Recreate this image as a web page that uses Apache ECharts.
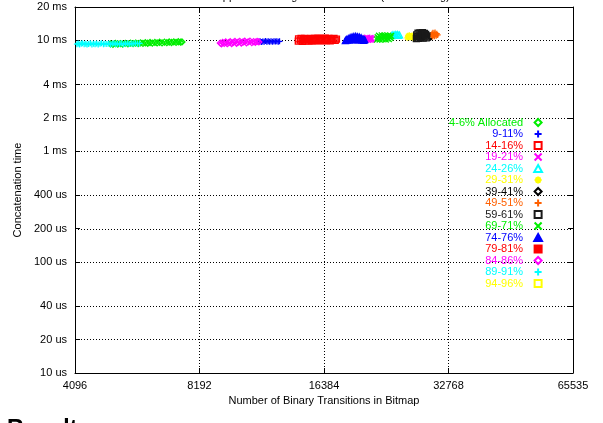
<!DOCTYPE html>
<html>
<head>
<meta charset="utf-8">
<script src="https://cdn.jsdelivr.net/npm/echarts@6/dist/echarts.min.js"></script>
<style>
  html, body { margin: 0; padding: 0; background: #ffffff; }
  #chart { width: 603px; height: 423px; }
</style>
</head>
<body>
<div id="chart"></div>
<script>
// Axis ticks (x: number of transitions, y: time in milliseconds)
const xTickValues = [4096, 8192, 16384, 32768, 65535];
const xTickLabels = ['4096', '8192', '16384', '32768', '65535'];
const yTickValues = [0.01, 0.02, 0.04, 0.1, 0.2, 0.4, 1, 2, 4, 10, 20];
const yTickLabels = ['10 us', '20 us', '40 us', '100 us', '200 us', '400 us', '1 ms', '2 ms', '4 ms', '10 ms', '20 ms'];

// Measurements per allocation band: [transitions, concatenation time in ms]
const alloc4_6 = [[4990,9.30],[5060,9.22],[5130,9.38],[5200,9.28],[5270,9.35],[5340,9.25],[5420,9.40],[5500,9.31],[5580,9.44],[5660,9.34],[5740,9.46],[5820,9.36],[5900,9.50],[5980,9.40],[6060,9.52],[6140,9.42],[6220,9.56],[6300,9.45],[6390,9.58],[6470,9.48],[6560,9.62],[6650,9.50],[6740,9.64],[6830,9.53],[6920,9.66],[7010,9.56],[7100,9.70],[7190,9.60],[7280,9.72],[7370,9.63],[7430,9.68]];
const alloc9_11 = [[11400,9.70],[11480,9.82],[11560,9.66],[11650,9.78],[11740,9.72],[11830,9.86],[11920,9.70],[12010,9.80],[12100,9.74],[12200,9.84],[12300,9.72],[12400,9.80],[12500,9.76],[12600,9.84],[12700,9.74],[12790,9.80]];
const alloc14_16 = [[14200,9.85],[14220,10.30],[14360,10.05],[14420,10.40],[14520,9.82],[14600,10.20],[14700,10.42],[14780,9.90],[14860,10.15],[14960,10.38],[15050,9.86],[15150,10.25],[15250,10.44],[15340,9.92],[15440,10.12],[15540,10.40],[15640,9.88],[15740,10.22],[15850,10.45],[15950,9.94],[16060,10.18],[16170,10.42],[16280,9.90],[16390,10.28],[16500,10.46],[16610,9.96],[16720,10.20],[16840,10.44],[16960,9.92],[17080,10.30],[17200,10.10],[17320,10.42],[17440,9.98],[17560,10.26]];
const alloc19_21 = [[20600,10.15],[20680,10.45],[20760,10.25],[20850,10.55],[20940,10.12],[21030,10.40],[21120,10.20],[21220,10.50],[21320,10.18],[21420,10.35]];
const alloc24_26 = [[23900,11.05],[24050,11.25],[24200,11.10],[24350,11.30],[24500,11.12],[24650,11.28],[24800,11.08],[24950,11.20]];
const alloc29_31 = [[26050,10.55],[26150,11.00],[26250,10.75],[26350,11.10],[26450,10.60],[26550,10.90],[26650,10.70],[26750,11.05],[26850,10.58],[26950,10.95],[27050,10.72],[27150,11.08],[27250,10.62]];
const alloc39_41 = [[29650,10.70],[29700,10.95]];
const alloc49_51 = [[29800,11.10],[29900,11.45],[30000,10.85],[30050,11.70],[30150,11.20],[30250,11.55],[30300,10.90],[30400,11.75],[30500,11.30],[30600,11.00],[30700,11.50],[30850,11.20]];
const alloc59_61 = [[27400,10.40],[27450,11.20],[27550,10.80],[27650,11.60],[27750,10.45],[27850,11.00],[27950,11.70],[28050,10.60],[28150,11.35],[28250,10.90],[28350,11.75],[28450,10.50],[28550,11.15],[28650,11.55],[28750,10.75],[28850,11.30],[28950,10.55],[29030,11.00]];
const alloc69_71 = [[22020,10.15],[22100,10.70],[22180,10.40],[22260,11.00],[22340,10.20],[22430,10.80],[22520,10.50],[22610,11.10],[22700,10.25],[22800,10.85],[22900,10.55],[23000,11.05],[23100,10.18],[23200,10.75],[23300,10.45],[23400,11.00],[23500,10.30],[23600,10.85],[23700,10.55],[23800,10.95]];
const alloc74_76 = [[18450,9.95],[18550,10.20],[18650,10.05],[18750,10.40],[18850,10.10],[18950,10.60],[19050,10.15],[19150,10.75],[19250,10.40],[19350,10.85],[19450,10.10],[19550,10.88],[19650,10.45],[19750,10.82],[19850,10.12],[19950,10.72],[20050,10.35],[20150,10.55],[20250,10.08],[20350,10.32],[20450,10.00],[20550,10.15]];
const alloc79_81 = [];
const alloc84_86 = [[9200,9.45],[9260,9.30],[9320,9.58],[9400,9.40],[9480,9.66],[9560,9.34],[9640,9.55],[9720,9.72],[9800,9.38],[9890,9.60],[9980,9.78],[10070,9.42],[10160,9.64],[10250,9.80],[10340,9.46],[10440,9.66],[10540,9.82],[10640,9.50],[10740,9.70],[10850,9.84],[10960,9.55],[11070,9.74],[11180,9.62],[11290,9.78],[11400,9.68]];
const alloc89_91 = [[4140,9.24],[4170,9.38],[4200,9.18],[4240,9.30],[4270,9.42],[4310,9.22],[4350,9.34],[4380,9.16],[4420,9.28],[4460,9.40],[4500,9.20],[4540,9.32],[4580,9.25],[4620,9.38],[4660,9.18],[4710,9.30],[4750,9.41],[4800,9.22],[4840,9.33],[4890,9.26],[4940,9.38],[4990,9.20],[5040,9.31],[5090,9.42],[5140,9.24],[5190,9.35],[5250,9.27],[5300,9.40],[5360,9.22],[5420,9.33],[5480,9.43],[5540,9.26],[5600,9.36],[5660,9.30],[5730,9.42],[5800,9.33],[5870,9.38]];
const alloc94_96 = [];

// Point shapes (all as paths so legend icons keep a square aspect)
const PLUS = 'path://M5,0L5,10M0,5L10,5';
const CROSS = 'path://M0,0L10,10M10,0L0,10';
const STAR = 'path://M5,0L5,10M0,5L10,5M1.5,1.5L8.5,8.5M8.5,1.5L1.5,8.5';
const BOXX = 'path://M0,0L10,0L10,10L0,10ZM0,0L10,10M10,0L0,10';
const SQUARE = 'path://M0,0L10,0L10,10L0,10Z';
const DIAMOND = 'path://M5,0L10,5L5,10L0,5Z';
const TRIANGLE = 'path://M5,0L10,9L0,9Z';

const bands = [
  { name: '4-6% Allocated', color: '#00ee00', symbol: DIAMOND,  filled: false, data: alloc4_6 },
  { name: '9-11%',  color: '#0000ff', symbol: PLUS,     filled: false, data: alloc9_11 },
  { name: '14-16%', color: '#ff0000', symbol: SQUARE,   filled: false, data: alloc14_16 },
  { name: '19-21%', color: '#ff00ff', symbol: CROSS,    filled: false, data: alloc19_21 },
  { name: '24-26%', color: '#00ffff', symbol: TRIANGLE, filled: false, data: alloc24_26 },
  { name: '29-31%', color: '#ffff00', symbol: STAR,     filled: false, data: alloc29_31 },
  { name: '39-41%', color: '#000000', symbol: DIAMOND,  filled: false, data: alloc39_41 },
  { name: '49-51%', color: '#ff6000', symbol: PLUS,     filled: false, data: alloc49_51 },
  { name: '59-61%', color: '#1a1a1a', symbol: SQUARE,   filled: false, data: alloc59_61 },
  { name: '69-71%', color: '#00ee00', symbol: CROSS,    filled: false, data: alloc69_71 },
  { name: '74-76%', color: '#0000ff', symbol: TRIANGLE, filled: true,  data: alloc74_76 },
  { name: '79-81%', color: '#ff0000', symbol: BOXX,     filled: true,  data: alloc79_81 },
  { name: '84-86%', color: '#ff00ff', symbol: DIAMOND,  filled: false, data: alloc84_86 },
  { name: '89-91%', color: '#00ffff', symbol: PLUS,     filled: false, data: alloc89_91 },
  { name: '94-96%', color: '#ffff00', symbol: SQUARE,   filled: false, data: alloc94_96 }
];

const FONT = 'Liberation Sans, Arial, Helvetica, sans-serif';
const log2 = Math.log2, log10 = Math.log10;
const xTicksLog = xTickValues.map(v => log2(v));
const yTicksLog = yTickValues.map(v => log10(v));

function lookup(ticks, labels, v) {
  for (let i = 0; i < ticks.length; i++) {
    if (Math.abs(ticks[i] - v) < 1e-6) return labels[i];
  }
  return '';
}

const scatterSeries = bands.map(b => ({
  type: 'scatter',
  name: b.name,
  symbol: b.symbol,
  symbolSize: 6,
  xAxisIndex: 0,
  yAxisIndex: 0,
  itemStyle: {
    color: b.filled ? b.color : 'rgba(0,0,0,0)',
    borderColor: b.color,
    borderWidth: 1.3,
    opacity: 1
  },
  emphasis: { disabled: true },
  data: b.data.map(p => [log2(p[0]), log10(p[1])])
}));

// Dotted grid lines inside the frame
const gridSeries = {
  type: 'scatter',
  name: 'grid',
  data: [],
  xAxisIndex: 0,
  yAxisIndex: 0,
  silent: true,
  markLine: {
    silent: true,
    z: 1,
    symbol: ['none', 'none'],
    label: { show: false },
    lineStyle: { color: '#000000', type: [1, 2], width: 1 },
    emphasis: { disabled: true },
    data: [
      ...xTicksLog.slice(1, -1).map(v => ({ xAxis: v })),
      ...yTicksLog.slice(1, -1).map(v => ({ yAxis: v }))
    ]
  }
};

const axisLine = { show: true, onZero: false, lineStyle: { color: '#000000', width: 1 } };

function tickStyle(values) {
  return { show: true, inside: true, length: 5, customValues: values, lineStyle: { color: '#000000' } };
}

const chart = echarts.init(document.getElementById('chart'), null, { renderer: 'canvas' });
chart.setOption({
  animation: false,
  backgroundColor: '#ffffff',
  grid: { left: 75, right: 30, top: 7, bottom: 50, containLabel: false, outerBoundsMode: 'none' },
  xAxis: [
    {
      type: 'value', position: 'bottom',
      min: log2(xTickValues[0]), max: log2(xTickValues[xTickValues.length - 1]),
      name: 'Number of Binary Transitions in Bitmap',
      nameLocation: 'middle', nameGap: 22,
      nameTextStyle: { fontFamily: FONT, fontSize: 11, color: '#000000' },
      axisLine: axisLine, splitLine: { show: false },
      axisTick: tickStyle(xTicksLog),
      axisLabel: { show: true, customValues: xTicksLog, margin: 7, fontFamily: FONT, fontSize: 11, color: '#000000',
        formatter: v => lookup(xTicksLog, xTickLabels, v) }
    },
    {
      type: 'value', position: 'top',
      min: log2(xTickValues[0]), max: log2(xTickValues[xTickValues.length - 1]),
      axisLine: axisLine, splitLine: { show: false },
      axisTick: tickStyle(xTicksLog),
      axisLabel: { show: false }
    }
  ],
  yAxis: [
    {
      type: 'value', position: 'left',
      min: log10(yTickValues[0]), max: log10(yTickValues[yTickValues.length - 1]),
      name: 'Concatenation time',
      nameLocation: 'middle', nameGap: 47, nameRotate: 90,
      nameTextStyle: { fontFamily: FONT, fontSize: 11, color: '#000000' },
      axisLine: axisLine, splitLine: { show: false },
      axisTick: tickStyle(yTicksLog),
      axisLabel: { show: true, customValues: yTicksLog, margin: 8, fontFamily: FONT, fontSize: 11, color: '#000000',
        formatter: v => lookup(yTicksLog, yTickLabels, v) }
    },
    {
      type: 'value', position: 'right',
      min: log10(yTickValues[0]), max: log10(yTickValues[yTickValues.length - 1]),
      axisLine: axisLine, splitLine: { show: false },
      axisTick: tickStyle(yTicksLog),
      axisLabel: { show: false }
    }
  ],
  legend: {
    orient: 'vertical',
    align: 'right',
    right: 60,
    top: 117,
    padding: 0,
    itemWidth: 20,
    itemHeight: 7,
    itemGap: 0.5,
    selectedMode: false,
    textStyle: { fontFamily: FONT, fontSize: 11 },
    data: bands.map(b => ({ name: b.name, icon: b.symbol, textStyle: { color: b.color } }))
  },
  graphic: [
    {
      type: 'text',
      style: {
        x: 324, y: 2, text: 'Mmapped 4096 Page Concatenation (total caching)',
        font: '11px ' + FONT, fill: '#000000',
        align: 'center', verticalAlign: 'bottom', textAlign: 'center', textVerticalAlign: 'bottom'
      }
    },
    {
      type: 'text',
      style: {
        x: 7, y: 418, text: 'Results',
        font: 'bold 23px ' + FONT, fill: '#000000',
        align: 'left', verticalAlign: 'top', textAlign: 'left', textVerticalAlign: 'top'
      }
    }
  ],
  series: [gridSeries, ...scatterSeries]
});
</script>
</body>
</html>
